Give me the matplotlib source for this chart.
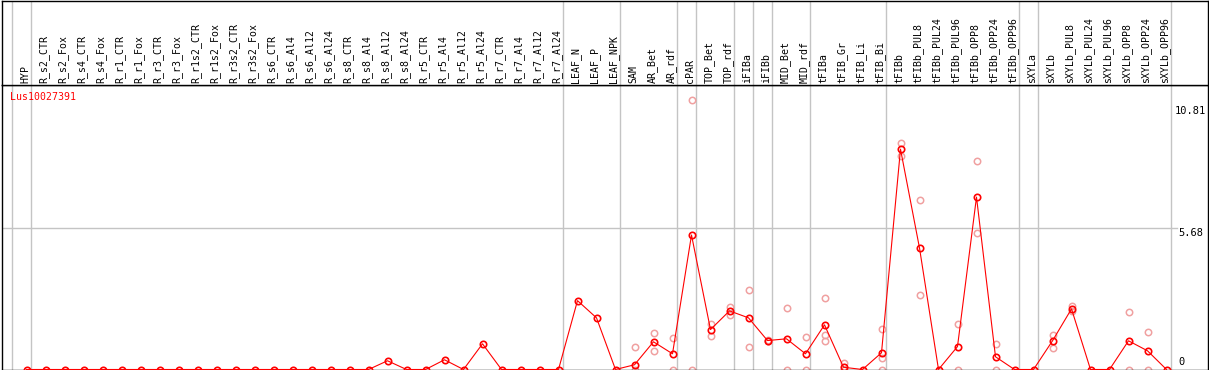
import numpy as np
import matplotlib
matplotlib.use("Agg")
import matplotlib.pyplot as plt

nan = np.nan

samples = ["HYP", "R_s2_CTR", "R_s2_Fox", "R_s4_CTR", "R_s4_Fox", "R_r1_CTR", "R_r1_Fox",
           "R_r3_CTR", "R_r3_Fox", "R_r1s2_CTR", "R_r1s2_Fox", "R_r3s2_CTR", "R_r3s2_Fox",
           "R_s6_CTR", "R_s6_Al4", "R_s6_Al12", "R_s6_Al24", "R_s8_CTR", "R_s8_Al4",
           "R_s8_Al12", "R_s8_Al24", "R_r5_CTR", "R_r5_Al4", "R_r5_Al12", "R_r5_Al24",
           "R_r7_CTR", "R_r7_Al4", "R_r7_Al12", "R_r7_Al24", "LEAF_N", "LEAF_P", "LEAF_NPK",
           "SAM", "AR_Bet", "AR_rdf", "cPAR", "TOP_Bet", "TOP_rdf", "iFIBa", "iFIBb",
           "MID_Bet", "MID_rdf", "tFIBa", "tFIB_Gr", "tFIB_Li", "tFIB_Bi", "tFIBb",
           "tFIBb_PUL8", "tFIBb_PUL24", "tFIBb_PUL96", "tFIBb_OPP8", "tFIBb_OPP24",
           "tFIBb_OPP96", "sXYLa", "sXYLb", "sXYLb_PUL8", "sXYLb_PUL24", "sXYLb_PUL96",
           "sXYLb_OPP8", "sXYLb_OPP24", "sXYLb_OPP96"]

mean_expr = [0, 0, 0, 0, 0, 0, 0, 0, 0, 0, 0, 0, 0, 0, 0, 0, 0, 0, 0, 0.35,
             0, 0, 0.39, 0, 1.03, 0, 0, 0, 0, 2.76, 2.07, 0, 0.19, 1.11, 0.63, 5.39,
             1.60, 2.35, 2.07, 1.16, 1.23, 0.63, 1.79, 0.09, 0, 0.67, 8.83, 4.87, 0,
             0.92, 6.91, 0.51, 0, 0, 1.15, 2.43, 0, 0, 1.15, 0.75, 0]

rep_a = [nan] * 32 + [0.92, 1.47, 1.28, 10.81, 1.83, 2.49, 3.19, 1.18, 2.47, 1.31, 2.87,
                      0.25, nan, 1.63, 9.07, 6.80, nan, 1.84, 8.35, 1.03, nan, nan, 1.40,
                      2.56, nan, nan, 2.32, 1.52, nan]
rep_b = [nan] * 32 + [0, 0.76, 0, 0, 1.33, 2.20, 0.92, 1.14, 0, 0, 1.40,
                      0, nan, 0.47, 8.56, 3.00, nan, 0, 5.47, 0, nan, nan, 0.87,
                      2.33, nan, nan, 0, 0, nan]
rep_c = [nan] * 42 + [1.13, nan, nan, 0] + [nan] * 15

group_ends = [-1, 0, 28, 31, 34, 35, 37, 38, 39, 41, 45, 52, 53, 60]
ytick_vals = [10.81, 5.68, 0]
ytick_labels = ["10.81", "5.68", "0"]
gene = "Lus10027391"

W, H = 1209, 370
fig = plt.figure(figsize=(W / 100, H / 100), dpi=100)
fig.patch.set_facecolor("white")

left = 1.5 / W
right = 1207.5 / W
main_top = 84.5
main_bot = 369.5
ax = fig.add_axes([left, (H - main_bot) / H, right - left, (main_bot - main_top) / H])
lab = fig.add_axes([left, (H - main_top) / H, right - left, (main_top - 0.5) / H])

x = np.arange(len(samples))
xmin = (1.5 - 26.5) / 19
xmax = (1207.5 - 26.5) / 19
grey = "#c4c4c4"
red = "#ff0000"
pink = "#f0a0a0"

for a in (ax, lab):
    a.set_xlim(xmin, xmax)
    a.set_xticks([])
    a.set_yticks([])
    for s in a.spines.values():
        s.set_color("black")
        s.set_linewidth(1.0)
    for g in group_ends:
        a.axvline(g + 0.24, color=grey, lw=1.0, zorder=0)

ax.set_ylim(0, 285 / 24.95)
lab.set_ylim(0, 1)

ax.axhline(5.68, xmin=0, xmax=(1177 - 1.5) / 1206, color=grey, lw=1.0, zorder=0)

mono = "DejaVu Sans Mono"
for r in (rep_a, rep_b, rep_c):
    ax.plot(x, r, linestyle="none", marker="o", ms=4.6, mew=1.1, mfc="none",
            mec=pink, zorder=2)
ax.plot(x, mean_expr, color=red, lw=0.8, marker="o", ms=4.6, mew=1.2, mfc="none",
        mec=red, zorder=3)

for i, name in enumerate(samples):
    lab.text(i - 0.08, 0.02, name, rotation=90, ha="center", va="bottom",
             fontsize=7.1, family=mono, color="black")

ax.annotate(gene, xy=(0, 1), xycoords="axes fraction", xytext=(8.5, -12),
            textcoords="offset pixels", ha="left", va="center", fontsize=7.1,
            family=mono, color=red)

offsets = [(-17.5, -11), (-17, -5.7), (-26, 7.3)]
for v, t, (dx, dy) in zip(ytick_vals, ytick_labels, offsets):
    ax.annotate(t, xy=(1, v), xycoords=("axes fraction", "data"), xytext=(dx, dy),
                textcoords="offset pixels", ha="center", va="center", fontsize=7.5,
                family=mono, color="black", annotation_clip=False)

fig.savefig("out.png", dpi=100)
